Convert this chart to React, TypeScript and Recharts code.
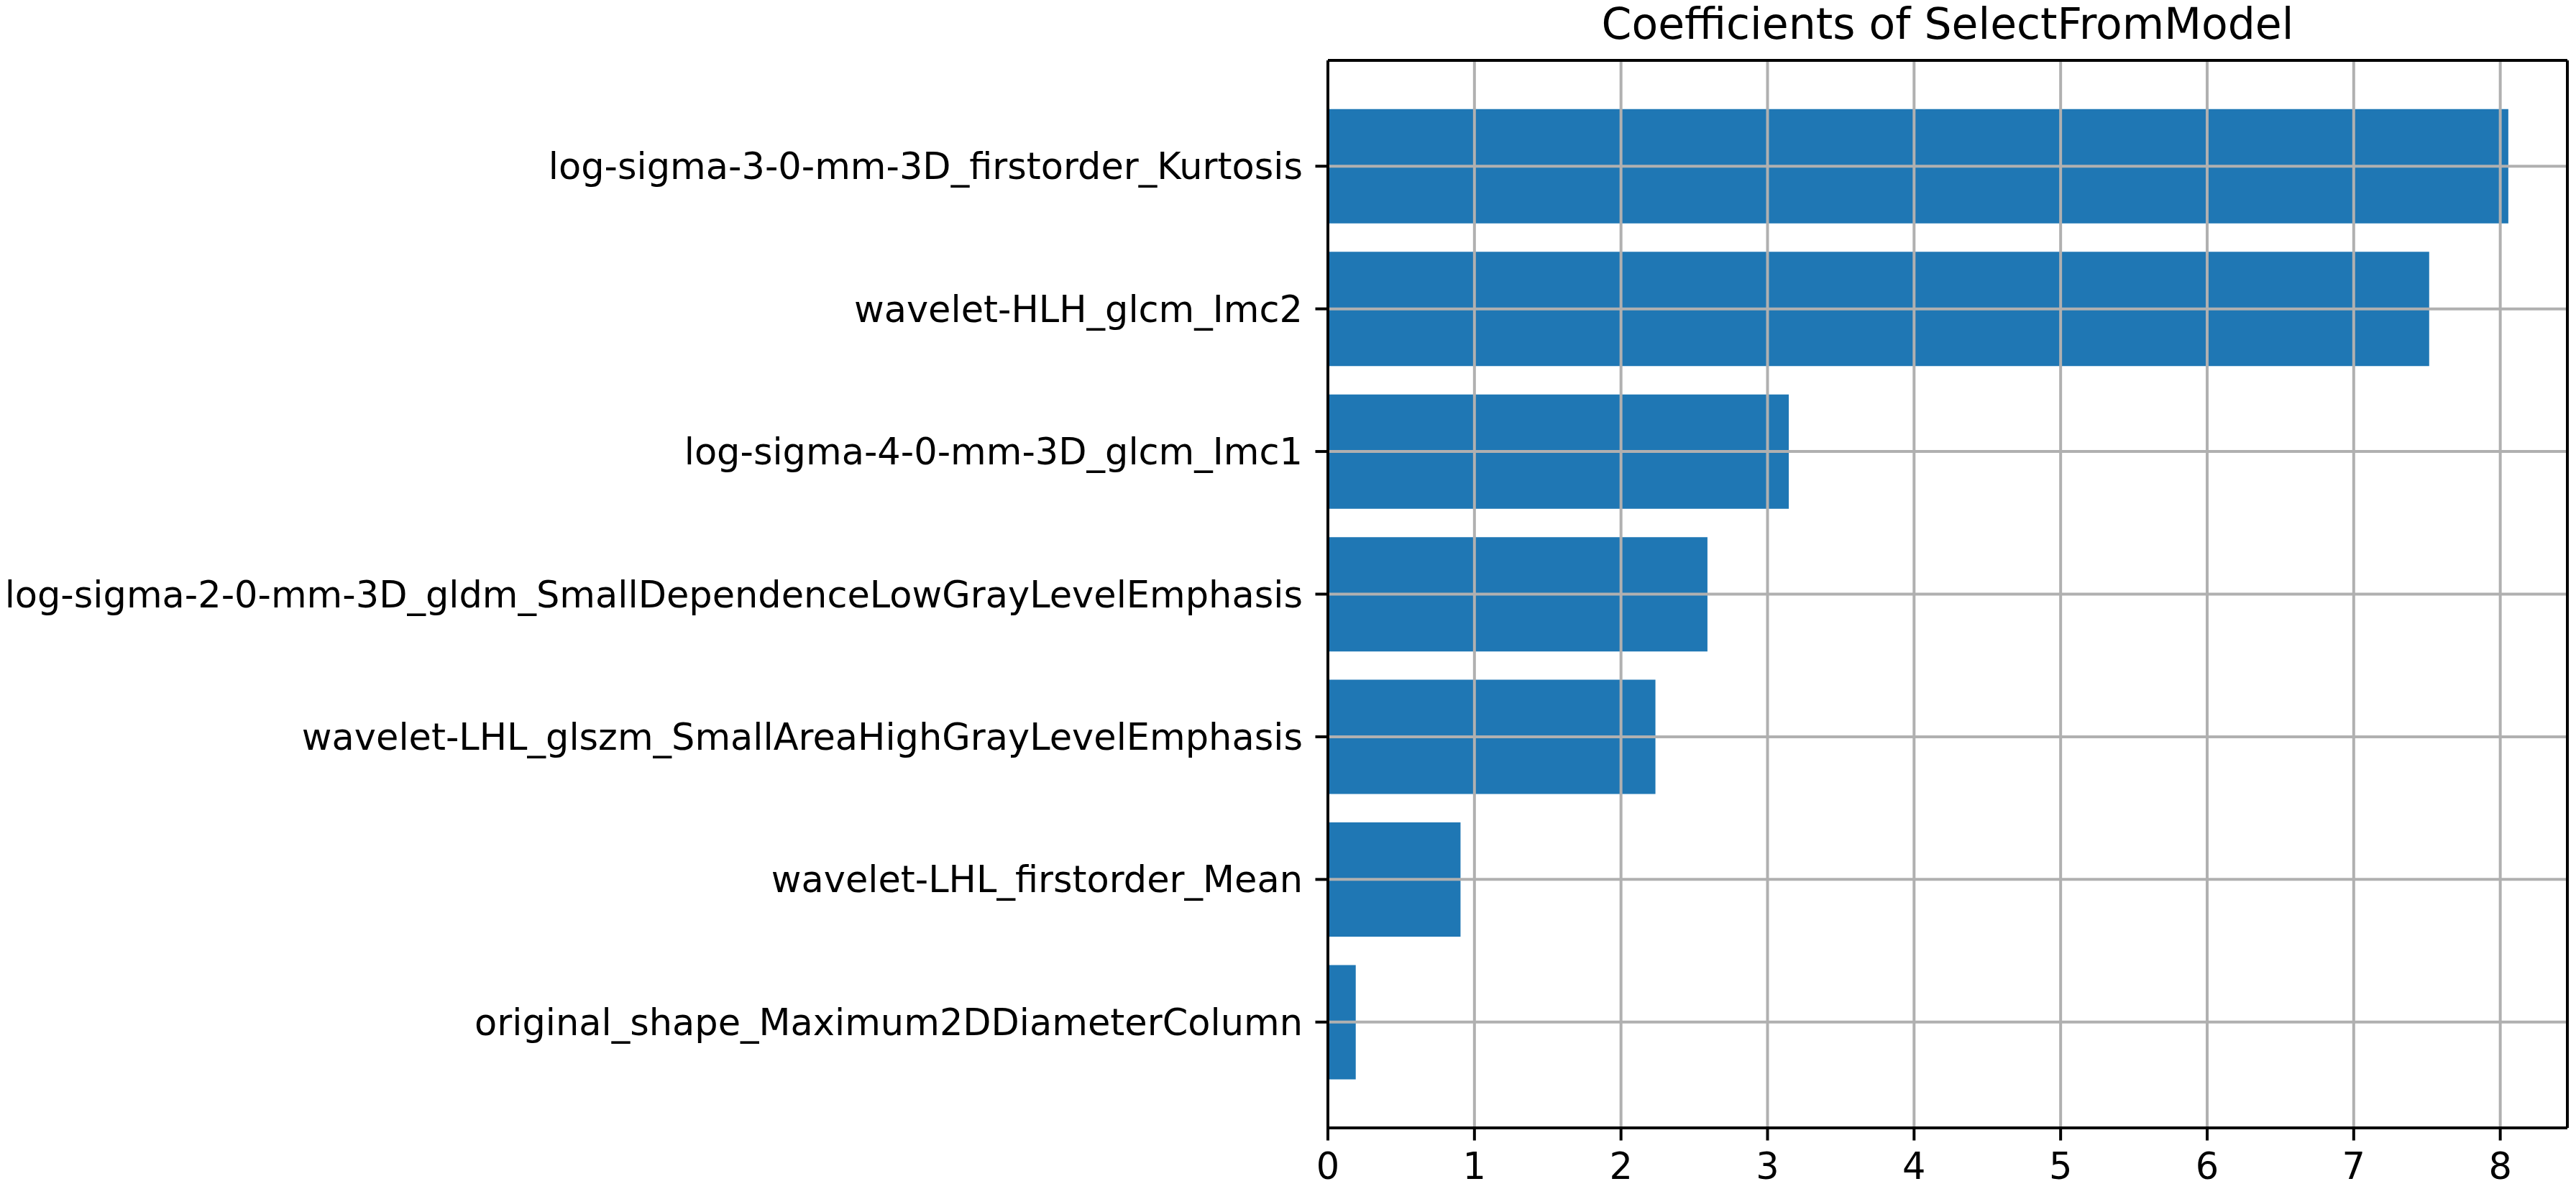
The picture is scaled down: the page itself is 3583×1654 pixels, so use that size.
import React from 'react';
import { BarChart, Bar, XAxis, YAxis, ReferenceLine } from 'recharts';

// top to bottom, as in the figure
const features = [
  'log-sigma-3-0-mm-3D_firstorder_Kurtosis',
  'wavelet-HLH_glcm_Imc2',
  'log-sigma-4-0-mm-3D_glcm_Imc1',
  'log-sigma-2-0-mm-3D_gldm_SmallDependenceLowGrayLevelEmphasis',
  'wavelet-LHL_glszm_SmallAreaHighGrayLevelEmphasis',
  'wavelet-LHL_firstorder_Mean',
  'original_shape_Maximum2DDiameterColumn',
];

const coefficients = [8.055, 7.515, 3.145, 2.59, 2.235, 0.905, 0.19];

const xTicks = [0, 1, 2, 3, 4, 5, 6, 7, 8];
const xMax = 8.458;

const title = 'Coefficients of SelectFromModel';

const FONT = '"DejaVu Sans", sans-serif';
const GRID = '#b0b0b0';
const SPINE = { stroke: '#000', strokeWidth: 4 };

export default function App() {
  const data = features.map((f, i) => ({ feature: f, coef: coefficients[i] }));

  return (
    <div style={{ position: 'absolute', left: 0, top: 0, width: 3583, height: 1654, background: '#fff', fontFamily: FONT }}>
      <div
        style={{
          position: 'absolute',
          left: 1847,
          width: 1724,
          top: 3,
          textAlign: 'center',
          fontSize: 60,
          lineHeight: '60px',
          color: '#000',
        }}
      >
        {title}
      </div>
      <BarChart
        width={3583}
        height={1654}
        data={data}
        layout="vertical"
        margin={{ top: 82, right: 10, bottom: 0, left: 0 }}
        barCategoryGap="10%"
      >
        <XAxis
          type="number"
          domain={[0, xMax]}
          ticks={xTicks}
          height={85}
          axisLine={SPINE}
          tickSize={17.5}
          tickMargin={17.5}
          tickLine={SPINE}
          tick={{ fill: '#000', fontSize: 51, fontFamily: FONT }}
        />
        <XAxis
          xAxisId="top"
          orientation="top"
          type="number"
          domain={[0, xMax]}
          ticks={xTicks}
          height={2}
          axisLine={SPINE}
          tick={false}
          tickLine={false}
        />
        <YAxis
          type="category"
          dataKey="feature"
          width={1847}
          axisLine={SPINE}
          padding={{ top: 48, bottom: 48 }}
          tickSize={17.5}
          tickMargin={17.5}
          tickLine={SPINE}
          tick={{ fill: '#000', fontSize: 51, fontFamily: FONT }}
          interval={0}
        />
        <YAxis
          yAxisId="right"
          orientation="right"
          type="category"
          dataKey="feature"
          width={2}
          axisLine={SPINE}
          tick={false}
          tickLine={false}
        />
        <Bar dataKey="coef" fill="#1f77b4" isAnimationActive={false} />
        {xTicks.filter((t) => t > 0).map((t) => (
          <ReferenceLine key={'x' + t} x={t} stroke={GRID} strokeWidth={4} />
        ))}
        {features.map((f) => (
          <ReferenceLine key={'y' + f} y={f} stroke={GRID} strokeWidth={4} />
        ))}
      </BarChart>
    </div>
  );
}
